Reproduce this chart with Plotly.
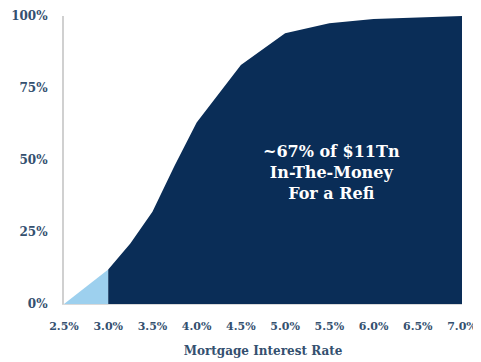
import plotly.graph_objects as go

rates = [2.5, 3.0, 3.25, 3.5, 3.75, 4.0, 4.5, 5.0, 5.5, 6.0, 6.5, 7.0]
share_in_money = [0, 12, 21, 32, 48, 63, 83, 94, 97.5, 99, 99.5, 100]
x_ticks = [2.5, 3.0, 3.5, 4.0, 4.5, 5.0, 5.5, 6.0, 6.5, 7.0]
x_tick_labels = ["2.5%", "3.0%", "3.5%", "4.0%", "4.5%", "5.0%", "5.5%", "6.0%", "6.5%", "7.0%"]
y_ticks = [0, 25, 50, 75, 100]
y_tick_labels = ["0%", "25%", "50%", "75%", "100%"]
split = 2  # index where dark region starts (3.0%)

FONT = "DejaVu Serif"
TICK_COLOR = "#34506f"
DARK = "#0a2d57"
LIGHT = "#9dd0ee"

fig = go.Figure()
fig.add_trace(go.Scatter(x=rates[:split], y=share_in_money[:split], mode="lines",
                         line=dict(width=0, color=LIGHT), fill="tozeroy", fillcolor=LIGHT,
                         hoverinfo="skip"))
fig.add_trace(go.Scatter(x=rates[split - 1:], y=share_in_money[split - 1:], mode="lines",
                         line=dict(width=0, color=DARK), fill="tozeroy", fillcolor=DARK,
                         hoverinfo="skip"))

fig.add_annotation(x=5.52, y=45.5, xref="x", yref="y",
                   text="~67% of $11Tn<br>In-The-Money<br>For a Refi",
                   showarrow=False, align="center",
                   font=dict(family=FONT, size=16, color="white", weight="bold"))

# page body has an 8px margin, so the figure is sized/offset to compensate
fig.update_layout(
    width=473, height=354,
    margin=dict(l=56, r=19, t=8, b=58),
    paper_bgcolor="white", plot_bgcolor="white",
    showlegend=False,
    font=dict(family=FONT, color=TICK_COLOR, size=12),
    xaxis=dict(range=[2.5, 7.0], tickvals=x_ticks, ticktext=x_tick_labels, automargin=False,
               ticklabeloverflow="allow",
               showgrid=False, zeroline=False, showline=True, linecolor="#d9d9d9", linewidth=1,
               ticks="outside", ticklen=12, tickcolor="rgba(0,0,0,0)",
               tickfont=dict(family=FONT, size=11, color=TICK_COLOR, weight="bold"),
               title=dict(text="Mortgage Interest Rate", standoff=14,
                          font=dict(family=FONT, size=12, color=TICK_COLOR, weight="bold"))),
    yaxis=dict(range=[0, 100], tickvals=y_ticks, ticktext=y_tick_labels, automargin=False,
               showgrid=False, zeroline=False, showline=True, linecolor="#d0d0d0", linewidth=2,
               ticks="outside", ticklen=12, tickcolor="rgba(0,0,0,0)",
               tickfont=dict(family=FONT, size=12, color=TICK_COLOR, weight="bold")),
)

fig.write_html("out.html")
